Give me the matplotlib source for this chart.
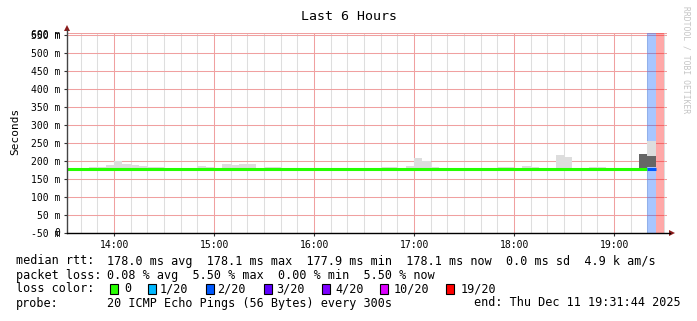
import matplotlib
matplotlib.use("Agg")
import matplotlib.pyplot as plt
from matplotlib.patches import Rectangle, Polygon
from matplotlib.ticker import FixedLocator

W, H, DPI = 697, 321, 100
MONO = "DejaVu Sans Mono"

# ---------------- data ----------------
title = "Last 6 Hours"
start_time = "13:31:44"
end_time = "19:31:44"
step_minutes = 5

# light smoke bars (interval start, top in ms)
smoke_starts = ["13:45", "13:50", "13:55", "14:00", "14:05", "14:10", "14:15", "14:20", "14:25",
                "14:50", "14:55", "15:05", "15:10", "15:15", "15:20", "15:30", "15:35",
                "16:40", "16:45", "16:55", "17:00", "17:05", "17:10", "17:50", "17:55",
                "18:05", "18:10", "18:25", "18:30", "18:45", "18:50"]
smoke_top = [184, 184, 189, 201, 192, 188, 186, 183, 183,
             186, 184, 192, 189, 192, 192, 183, 183,
             184, 184, 187, 208, 200, 184, 184, 184,
             187, 184, 217, 212, 184, 184]
smoke_bottom = 176

# dark smoke bars (interval start, low, high in ms)
dark_starts = ["19:15", "19:20"]
dark_low = [181, 183]
dark_high = [219, 214]
# light smoke on top of dark
upper_starts = ["19:20"]
upper_low = [214]
upper_high = [255]

# median segments
median_from = ["13:31:44", "19:20"]
median_to = ["19:20", "19:25"]
median_ms = [178.0, 178.1]
median_loss = ["0", "2/20"]

# loss background bands
band_starts = ["19:20", "19:25"]
band_loss = ["2/20", "19/20"]

loss_labels = ["0", "1/20", "2/20", "3/20", "4/20", "10/20", "19/20"]
loss_colors = ["#26ff00", "#00b8ff", "#0059ff", "#5e00ff", "#7e00ff", "#dd00ff", "#ff0000"]

ytick_values = [0, 50, 100, 150, 200, 250, 300, 350, 400, 450, 500, 550]
ytick_labels = ["-50 m", "50 m", "100 m", "150 m", "200 m", "250 m", "300 m",
                "350 m", "400 m", "450 m", "500 m", "550 m"]
yoverlay_values = [0, 550]
yoverlay_labels = ["0", "600 m"]
y_max = 557

xtick_labels = ["14:00", "15:00", "16:00", "17:00", "18:00", "19:00"]

stats_lines = [
    ("median rtt:", "178.0 ms avg  178.1 ms max  177.9 ms min  178.1 ms now  0.0 ms sd  4.9 k am/s"),
    ("packet loss:", "0.08 % avg  5.50 % max  0.00 % min  5.50 % now"),
]
probe_text = "20 ICMP Echo Pings (56 Bytes) every 300s"
end_text = "end: Thu Dec 11 19:31:44 2025"

# ---------------- helpers ----------------
def hours(s):
    p = [int(v) for v in s.split(":")]
    while len(p) < 3:
        p.append(0)
    return p[0] + p[1] / 60 + p[2] / 3600

STEP = step_minutes / 60
color_of = dict(zip(loss_labels, loss_colors))
GRID_RED = "#f0a0a0"

def fx(x):
    return x / W

def fy(y):
    return 1 - y / H

# ---------------- figure ----------------
fig = plt.figure(figsize=(W / DPI, H / DPI), dpi=DPI)
fig.patch.set_facecolor("white")
ax = fig.add_axes([fx(67), fy(233), 600 / W, (233 - 32.5) / H])
ax.set_facecolor("white")
ax.grid(False)
for s in ax.spines.values():
    s.set_visible(False)

x0, x1 = hours(start_time), hours(end_time)
ax.set_xlim(x0, x1)
ax.set_ylim(0, y_max)

# grid
major_x = [hours(l) for l in xtick_labels]
minor_x = []
t = 13 + 40 / 60
while t < x1:
    if all(abs(t - m) > 1e-6 for m in major_x):
        minor_x.append(t)
    t += 10 / 60
ax.vlines(minor_x, 0, y_max, color="#dedede", lw=0.75, zorder=0.5, snap=True)
ax.vlines(major_x, 0, y_max, color=GRID_RED, lw=0.75, zorder=0.6, snap=True)
ax.hlines(ytick_values + [y_max - 1.2], x0, x1, color=GRID_RED, lw=0.75, zorder=0.7, snap=True)

# loss bands
for s, l in zip(band_starts, band_loss):
    ax.axvspan(hours(s), hours(s) + STEP, color=color_of[l], alpha=0.34, lw=0, zorder=1)

# smoke
for s, top in zip(smoke_starts, smoke_top):
    ax.bar(hours(s), top - smoke_bottom, bottom=smoke_bottom, width=STEP, align="edge",
           color="#dddddd", lw=0, zorder=2)
for s, lo, hi in zip(dark_starts, dark_low, dark_high):
    ax.bar(hours(s), hi - lo, bottom=lo, width=STEP, align="edge", color="#666666", lw=0, zorder=2)
for s, lo, hi in zip(upper_starts, upper_low, upper_high):
    ax.bar(hours(s), hi - lo, bottom=lo, width=STEP, align="edge", color="#dddddd", lw=0, zorder=2)

# median
for a, b, v, l in zip(median_from, median_to, median_ms, median_loss):
    ax.hlines(v, hours(a), hours(b), color=color_of[l], lw=2.2, zorder=3)

# ticks
ax.yaxis.set_major_locator(FixedLocator(ytick_values))
ax.set_yticklabels(ytick_labels)
ax.xaxis.set_major_locator(FixedLocator(major_x))
ax.set_xticklabels(xtick_labels)
ax.tick_params(axis="both", which="major", length=2.2, width=0.8, color="#333333",
               labelsize=7, direction="out")
ax.tick_params(axis="y", pad=2.8)
ax.tick_params(axis="x", pad=2.6)
for lab in ax.get_xticklabels() + ax.get_yticklabels():
    lab.set_fontfamily(MONO)
for v, l in zip(yoverlay_values, yoverlay_labels):
    ax.annotate(l, xy=(0, v), xycoords=("axes fraction", "data"), xytext=(-5.0, 0),
                textcoords="offset points", ha="right", va="center", fontsize=7,
                family=MONO, annotation_clip=False)

# axis lines and arrows
fig.add_artist(plt.Line2D([fx(67), fx(67)], [fy(233), fy(30)], color="#444444", lw=1.0))
fig.add_artist(plt.Line2D([fx(67), fx(670)], [fy(233), fy(233)], color="black", lw=1.0))
fig.add_artist(Polygon([(fx(64), fy(31)), (fx(70), fy(31)), (fx(67), fy(25))], closed=True,
                       transform=fig.transFigure, color="#8b1a1a", lw=0))
fig.add_artist(Polygon([(fx(669), fy(230)), (fx(669), fy(236)), (fx(675), fy(233))], closed=True,
                       transform=fig.transFigure, color="#8b1a1a", lw=0))

# title and labels
fig.text(fx(349), fy(16), title, ha="center", va="center", fontsize=9.5, family=MONO)
fig.text(fx(15), fy(131), "Seconds", rotation=90, ha="center", va="center", fontsize=8, family=MONO)
fig.text(fx(686), fy(60), "RRDTOOL / TOBI OETIKER", rotation=270, ha="center", va="center",
         fontsize=5.8, family=MONO, color="#c4c4c4")

# statistics
FS = 8.5
rows_y = [261, 275, 289, 303]
for (head, body), yy in zip(stats_lines, rows_y[:2]):
    fig.text(fx(16), fy(yy), head, ha="left", va="center", fontsize=FS, family=MONO)
    fig.text(fx(107), fy(yy), body, ha="left", va="center", fontsize=FS, family=MONO)

fig.text(fx(16), fy(rows_y[2]), "loss color:", ha="left", va="center", fontsize=FS, family=MONO)
box_x = [109.5, 147.5, 205.5, 263.6, 321.7, 379.8, 445.9]
lab_x = [124.2, 159.5, 217.6, 275.7, 335.0, 393.2, 460.2]
for bx, lx, lab, col in zip(box_x, lab_x, loss_labels, loss_colors):
    fig.add_artist(Rectangle((fx(bx), fy(rows_y[2] + 5)), 8.5 / W, 10 / H, transform=fig.transFigure,
                             facecolor=col, edgecolor="black", lw=0.8))
    fig.text(fx(lx), fy(rows_y[2]), lab, ha="left", va="center", fontsize=FS, family=MONO)

fig.text(fx(16), fy(rows_y[3]), "probe:", ha="left", va="center", fontsize=FS, family=MONO)
fig.text(fx(107), fy(rows_y[3]), probe_text, ha="left", va="center", fontsize=FS, family=MONO)
fig.text(fx(681), fy(rows_y[3]), end_text, ha="right", va="center", fontsize=FS, family=MONO)

fig.savefig("out.png", dpi=DPI, facecolor="white")
